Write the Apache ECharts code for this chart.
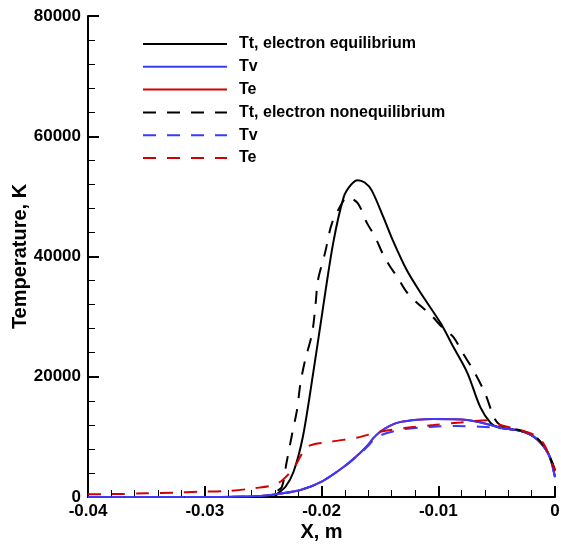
<!DOCTYPE html>
<html>
<head>
<meta charset="utf-8">
<script src="https://cdn.jsdelivr.net/npm/echarts@6/dist/echarts.min.js"></script>
<style>
html,body{margin:0;padding:0;background:#fff;}
#chart{width:561px;height:548px;}
</style>
</head>
<body>
<div id="chart"></div>
<script>
// ---- data ----
var legendNames = ['Tt, electron equilibrium', 'Tv', 'Te', 'Tt, electron nonequilibrium', 'Tv ', 'Te '];

var ttEq = [[-0.04,0],[-0.0245,0],[-0.0240,100],[-0.0237,665],[-0.0231,1660],[-0.0224,4160],[-0.0216,9975],[-0.0207,20780],[-0.0199,31090],[-0.0190,42230],[-0.0181,49875],[-0.0175,51870],[-0.0169,52700],[-0.0163,52300],[-0.0157,51000],[-0.0147,46550],[-0.0139,42730],[-0.0127,37740],[-0.0115,33915],[-0.0098,28930],[-0.0087,24940],[-0.0075,20615],[-0.0064,14960],[-0.0055,12300],[-0.0049,11640],[-0.0040,11300],[-0.0030,11000],[-0.0018,10000],[-0.0010,8500],[-0.0004,6500],[0,4500]];

var tvEq = [[-0.04,0],[-0.0300,0],[-0.0252,166],[-0.0238,500],[-0.0218,1160],[-0.0199,2660],[-0.0180,5150],[-0.0167,7315],[-0.0160,8700],[-0.0156,9700],[-0.0150,10800],[-0.0142,11800],[-0.0133,12450],[-0.0118,12850],[-0.0104,12970],[-0.0075,12800],[-0.0055,11970],[-0.0047,11520],[-0.0030,11020],[-0.0018,10025],[-0.0006,7315],[0,3300]];

var teEq = [[-0.04,0],[-0.0300,0],[-0.0252,166],[-0.0238,500],[-0.0218,1160],[-0.0199,2660],[-0.0180,5150],[-0.0167,7315],[-0.0160,8700],[-0.0156,9700],[-0.0150,10800],[-0.0142,11800],[-0.0133,12450],[-0.0118,12850],[-0.0104,12970],[-0.0075,12800],[-0.0055,11970],[-0.0047,11520],[-0.0030,11020],[-0.0018,10025],[-0.0006,7315],[0,3300]];

var ttNeq = [[-0.04,0],[-0.0245,0],[-0.0240,800],[-0.0234,1660],[-0.0230,5650],[-0.0225,10640],[-0.0221,14460],[-0.0218,18950],[-0.0214,22780],[-0.0208,27265],[-0.0205,32250],[-0.0203,36075],[-0.0197,40565],[-0.0191,45550],[-0.0181,49375],[-0.0178,49875],[-0.0169,48880],[-0.0161,45550],[-0.0154,43225],[-0.0147,40230],[-0.0141,38240],[-0.0135,36575],[-0.0127,34080],[-0.0118,32250],[-0.0107,30420],[-0.0096,28100],[-0.0087,26600],[-0.0079,23940],[-0.0070,21110],[-0.0060,17290],[-0.0052,13130],[-0.0047,11970],[-0.0040,11500],[-0.0030,11100],[-0.0018,10200],[-0.0010,8600],[-0.0004,6400],[0,4300]];

var tvNeq = [[-0.04,0],[-0.0300,0],[-0.0252,166],[-0.0238,500],[-0.0218,1160],[-0.0199,2660],[-0.0180,5150],[-0.0167,7200],[-0.0160,8500],[-0.0156,9400],[-0.0150,10200],[-0.0143,10700],[-0.0130,11260],[-0.0104,11690],[-0.0084,11800],[-0.0064,11690],[-0.0050,11500],[-0.0030,11020],[-0.0018,10025],[-0.0006,7315],[0,3300]];

var teNeq = [[-0.04,450],[-0.0372,500],[-0.0350,615],[-0.0327,715],[-0.0304,880],[-0.0281,1000],[-0.0258,1450],[-0.0238,2200],[-0.0224,4760],[-0.0212,8360],[-0.0192,9190],[-0.0169,9900],[-0.0150,10860],[-0.0127,11500],[-0.0104,11970],[-0.0081,12400],[-0.0058,12750],[-0.0047,11970],[-0.0030,11140],[-0.0018,10310],[-0.0010,8930],[-0.0004,6430],[0,4300]];

var xMin = -0.04, xMax = 0, xStep = 0.01;
var yMin = 0, yMax = 80000, yStep = 20000;

// ---- styles ----
var BLACK = '#000000', BLUE = '#3a3aff', RED = '#d20000';
var FONT = 'Liberation Sans, Arial, Helvetica, sans-serif';
var DASH = [13, 11];

function mk(name, data, color, dashed, z) {
  return {
    name: name, type: 'line', data: data, showSymbol: false, symbol: 'none',
    smooth: 0.3, z: z, silent: true, animation: false,
    lineStyle: { color: color, width: 2, type: dashed ? DASH : 'solid' },
    itemStyle: { color: color }
  };
}

var chart = echarts.init(document.getElementById('chart'), null, { renderer: 'canvas' });
chart.setOption({
  backgroundColor: '#ffffff',
  animation: false,
  grid: { left: 88, right: 6, top: 16, bottom: 51, containLabel: false, outerBoundsMode: 'none' },
  legend: {
    data: legendNames,
    orient: 'vertical',
    left: 142, top: 36, padding: 0,
    itemWidth: 84, itemHeight: 14, itemGap: 6.8,
    selectedMode: false,
    itemStyle: { opacity: 0 },
    formatter: function (n) { return n.trim(); },
    textStyle: { fontFamily: FONT, fontSize: 16, fontWeight: 'bold', color: '#000', padding: [0, 0, 0, 7], lineHeight: 16 }
  },
  xAxis: {
    type: 'value', min: xMin, max: xMax, interval: xStep,
    name: 'X, m', nameLocation: 'middle', nameGap: 25, nameMoveOverlap: false,
    nameTextStyle: { fontFamily: FONT, fontSize: 20, fontWeight: 'bold', color: '#000' },
    axisLine: { show: true, onZero: false, lineStyle: { color: '#000', width: 2 } },
    axisTick: { show: true, inside: true, length: 11, lineStyle: { color: '#000', width: 2 } },
    minorTick: { show: true, splitNumber: 5, length: 7, lineStyle: { color: '#000', width: 1 } },
    splitLine: { show: false },
    axisLabel: {
      margin: 6, fontFamily: FONT, fontSize: 17, fontWeight: 'bold', color: '#000',
      formatter: function (v) { return Math.abs(v) < 1e-12 ? '0' : v.toFixed(2); }
    }
  },
  yAxis: {
    type: 'value', min: yMin, max: yMax, interval: yStep,
    name: 'Temperature, K', nameLocation: 'middle', nameGap: 58, nameMoveOverlap: false,
    nameTextStyle: { fontFamily: FONT, fontSize: 20, fontWeight: 'bold', color: '#000' },
    axisLine: { show: true, onZero: false, lineStyle: { color: '#000', width: 2 } },
    axisTick: { show: true, inside: true, length: 11, lineStyle: { color: '#000', width: 2 } },
    minorTick: { show: true, splitNumber: 5, length: 7, lineStyle: { color: '#000', width: 1 } },
    splitLine: { show: false },
    axisLabel: {
      margin: 7, fontFamily: FONT, fontSize: 17, fontWeight: 'bold', color: '#000',
      formatter: function (v) { return String(Math.round(v)); }
    }
  },
  series: [
    mk(legendNames[0], ttEq, BLACK, false, 3),
    mk(legendNames[1], tvEq, BLUE, false, 3),
    mk(legendNames[2], teEq, RED, false, 1),
    mk(legendNames[3], ttNeq, BLACK, true, 4),
    mk(legendNames[4], tvNeq, BLUE, true, 4),
    mk(legendNames[5], teNeq, RED, true, 4)
  ]
});
</script>
</body>
</html>
